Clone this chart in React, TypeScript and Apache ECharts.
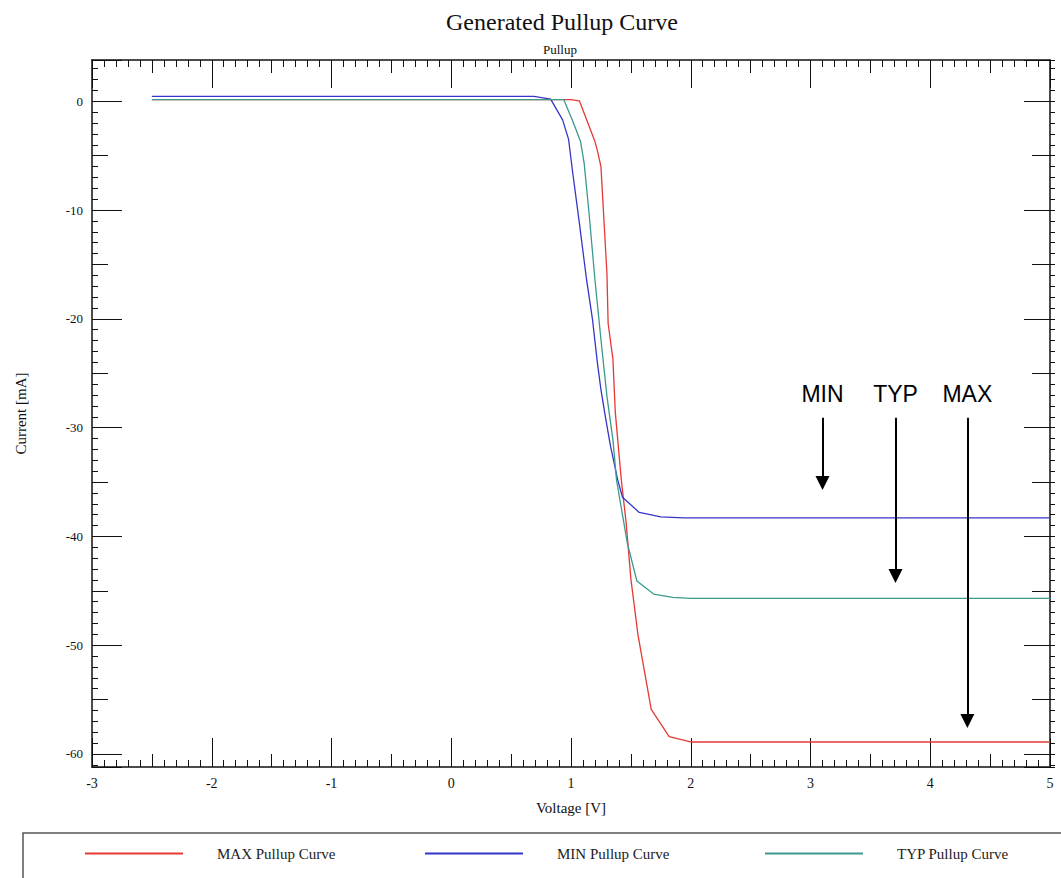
import React, { useEffect, useRef } from 'react';
import * as echarts from 'echarts';

// MAX Pullup Curve: voltage [V] / current [mA]
const maxV = [-2.5, 1.0, 1.07, 1.2, 1.22, 1.25, 1.3, 1.31, 1.35, 1.37, 1.42, 1.46, 1.5, 1.56, 1.67, 1.82, 2.0, 5.0];
const maxI = [0.15, 0.15, 0.05, -3.7, -4.5, -6.0, -15.8, -20.4, -23.7, -28.6, -34.8, -38.7, -43.9, -49.1, -55.9, -58.4, -58.9, -58.9];
// MIN Pullup Curve
const minV = [-2.5, 0.69, 0.83, 0.93, 0.98, 1.01, 1.07, 1.13, 1.18, 1.22, 1.25, 1.29, 1.33, 1.39, 1.43, 1.57, 1.75, 1.94, 5.0];
const minI = [0.45, 0.45, 0.2, -1.7, -3.5, -6.2, -11.2, -16.4, -20.1, -24.0, -26.5, -29.2, -31.7, -34.8, -36.4, -37.8, -38.2, -38.3, -38.3];
// TYP Pullup Curve
const typV = [-2.5, 0.94, 1.01, 1.08, 1.11, 1.15, 1.2, 1.25, 1.3, 1.35, 1.38, 1.47, 1.55, 1.69, 1.85, 2.0, 5.0];
const typI = [0.15, 0.15, -1.7, -3.7, -5.7, -10.2, -16.4, -21.9, -27.1, -31.1, -34.8, -40.6, -44.1, -45.3, -45.6, -45.7, -45.7];

const seriesNames = ['MAX Pullup Curve', 'MIN Pullup Curve', 'TYP Pullup Curve'];
const seriesColors = ['#e53935', '#3535c8', '#3a9a8c'];

// Annotation arrows (voltage position, start current, end current)
const annotLabels = ['MIN', 'TYP', 'MAX'];
const annotV = [3.1, 3.71, 4.31];
const annotFrom = [-29.1, -29.1, -29.1];
const annotTo = [-35.1, -43.65, -56.97];

const SERIF = "'Liberation Serif', 'Times New Roman', serif";
const SANS = "'Liberation Sans', Arial, sans-serif";
const AX = '#111';

function pairs(v: number[], i: number[]) {
  return v.map((x, k) => [x, i[k]]);
}

export default function App() {
  const ref = useRef<HTMLDivElement>(null);
  useEffect(() => {
    if (!ref.current) return;
    const chart = echarts.init(ref.current, undefined, { renderer: 'svg' });
    const tickStyle = { color: AX, width: 1 };
    const noLine = { show: false, onZero: false };
    const frameLine = { show: true, onZero: false, lineStyle: { color: AX, width: 1.5 } };
    const yRange = { min: -61.2, max: 3.8 };

    const option: any = {
      animation: false,
      backgroundColor: '#fff',
      title: [
        {
          text: 'Generated Pullup Curve',
          left: 557,
          top: 5,
          textAlign: 'center',
          textStyle: { fontFamily: SERIF, fontSize: 24, fontWeight: 'normal', color: '#111' },
        },
        {
          text: 'Pullup',
          left: 555,
          top: 38,
          textAlign: 'center',
          textStyle: { fontFamily: SERIF, fontSize: 13, fontWeight: 'normal', color: '#111' },
        },
      ],
      grid: { left: 92, right: 11, top: 60, bottom: 111, containLabel: false },
      legend: seriesNames.map((n, k) => ({
        data: [n],
        left: 85 + k * 340,
        top: 846,
        padding: 0,
        icon: 'rect',
        itemWidth: 98,
        itemHeight: 2,
        selectedMode: false,
        textStyle: { fontFamily: SERIF, fontSize: 15, color: '#222', padding: [0, 0, 0, 29] },
      })),
      xAxis: [
        {
          type: 'value', position: 'bottom', min: -3, max: 5, interval: 1,
          axisLine: frameLine,
          axisTick: { show: true, inside: true, length: 29, lineStyle: tickStyle },
          minorTick: { show: true, splitNumber: 10, length: 7, lineStyle: tickStyle },
          splitLine: { show: false },
          axisLabel: { margin: 9, fontFamily: SERIF, fontSize: 14, color: '#111' },
          name: 'Voltage [V]', nameLocation: 'middle', nameGap: 33,
          nameTextStyle: { fontFamily: SERIF, fontSize: 15, color: '#111' },
        },
        {
          type: 'value', position: 'bottom', min: -3, max: 5, interval: 0.5,
          axisLine: noLine,
          axisTick: { show: true, inside: true, length: 13, lineStyle: tickStyle },
          splitLine: { show: false }, axisLabel: { show: false },
        },
        {
          type: 'value', position: 'top', min: -3, max: 5, interval: 1,
          axisLine: frameLine,
          axisTick: { show: true, inside: true, length: 28, lineStyle: tickStyle },
          minorTick: { show: true, splitNumber: 10, length: 7, lineStyle: tickStyle },
          splitLine: { show: false }, axisLabel: { show: false },
        },
        {
          type: 'value', position: 'top', min: -3, max: 5, interval: 0.5,
          axisLine: noLine,
          axisTick: { show: true, inside: true, length: 13, lineStyle: tickStyle },
          splitLine: { show: false }, axisLabel: { show: false },
        },
      ],
      yAxis: [
        {
          type: 'value', position: 'left', ...yRange, minInterval: 10, maxInterval: 10, splitNumber: 6,
          axisLine: frameLine,
          axisTick: { show: true, inside: true, length: 30, lineStyle: tickStyle },
          minorTick: { show: true, splitNumber: 10, length: 6, lineStyle: tickStyle },
          splitLine: { show: false },
          axisLabel: { margin: 9, fontFamily: SERIF, fontSize: 13, color: '#111', showMinLabel: false, showMaxLabel: false },
          name: 'Current [mA]', nameLocation: 'middle', nameGap: 64, nameRotate: 90,
          nameTextStyle: { fontFamily: SERIF, fontSize: 15, color: '#111' },
        },
        {
          type: 'value', position: 'left', ...yRange, minInterval: 5, maxInterval: 5, splitNumber: 13,
          axisLine: noLine,
          axisTick: { show: true, inside: true, length: 16, lineStyle: tickStyle },
          splitLine: { show: false }, axisLabel: { show: false },
        },
        {
          type: 'value', position: 'right', ...yRange, minInterval: 10, maxInterval: 10, splitNumber: 6,
          axisLine: frameLine,
          axisTick: { show: true, inside: true, length: 26, lineStyle: tickStyle },
          splitLine: { show: false }, axisLabel: { show: false },
        },
        {
          type: 'value', position: 'right', ...yRange, minInterval: 5, maxInterval: 5, splitNumber: 13,
          axisLine: noLine,
          axisTick: { show: true, inside: true, length: 18, lineStyle: tickStyle },
          splitLine: { show: false }, axisLabel: { show: false },
        },
        {
          type: 'value', position: 'right', ...yRange, minInterval: 1, maxInterval: 1, splitNumber: 65,
          axisLine: noLine,
          axisTick: { show: true, inside: false, length: 5, lineStyle: tickStyle },
          splitLine: { show: false }, axisLabel: { show: false },
        },
      ],
      graphic: [
        {
          type: 'rect',
          shape: { x: 23, y: 833, width: 1100, height: 100 },
          style: { fill: 'none', stroke: '#555', lineWidth: 1.5 },
          silent: true,
        },
      ],
      series: [
        {
          name: seriesNames[0], type: 'line', xAxisIndex: 0, yAxisIndex: 0,
          data: pairs(maxV, maxI), showSymbol: false, symbol: 'none',
          lineStyle: { color: seriesColors[0], width: 1.3 }, itemStyle: { color: seriesColors[0] },
          z: 3,
          markLine: {
            silent: true,
            symbol: ['none', 'triangle'],
            symbolSize: 14,
            lineStyle: { color: '#000', width: 2, type: 'solid' },
            itemStyle: { color: '#000' },
            label: {
              show: true, position: 'start', distance: 12,
              formatter: (p: any) => p.name,
              fontFamily: SANS, fontSize: 23, color: '#000',
            },
            emphasis: { disabled: true },
            data: annotLabels.map((lab, k) => [
              { name: lab, coord: [annotV[k], annotFrom[k]] },
              { coord: [annotV[k], annotTo[k]] },
            ]),
          },
        },
        {
          name: seriesNames[1], type: 'line', xAxisIndex: 0, yAxisIndex: 0,
          data: pairs(minV, minI), showSymbol: false, symbol: 'none',
          lineStyle: { color: seriesColors[1], width: 1.3 }, itemStyle: { color: seriesColors[1] },
          z: 3,
        },
        {
          name: seriesNames[2], type: 'line', xAxisIndex: 0, yAxisIndex: 0,
          data: pairs(typV, typI), showSymbol: false, symbol: 'none',
          lineStyle: { color: seriesColors[2], width: 1.3 }, itemStyle: { color: seriesColors[2] },
          z: 3,
        },
      ],
    };
    chart.setOption(option);
    return () => chart.dispose();
  }, []);
  return (
    <div
      ref={ref}
      style={{ position: 'absolute', left: 0, top: 0, width: 1061, height: 878, background: '#fff' }}
    />
  );
}
